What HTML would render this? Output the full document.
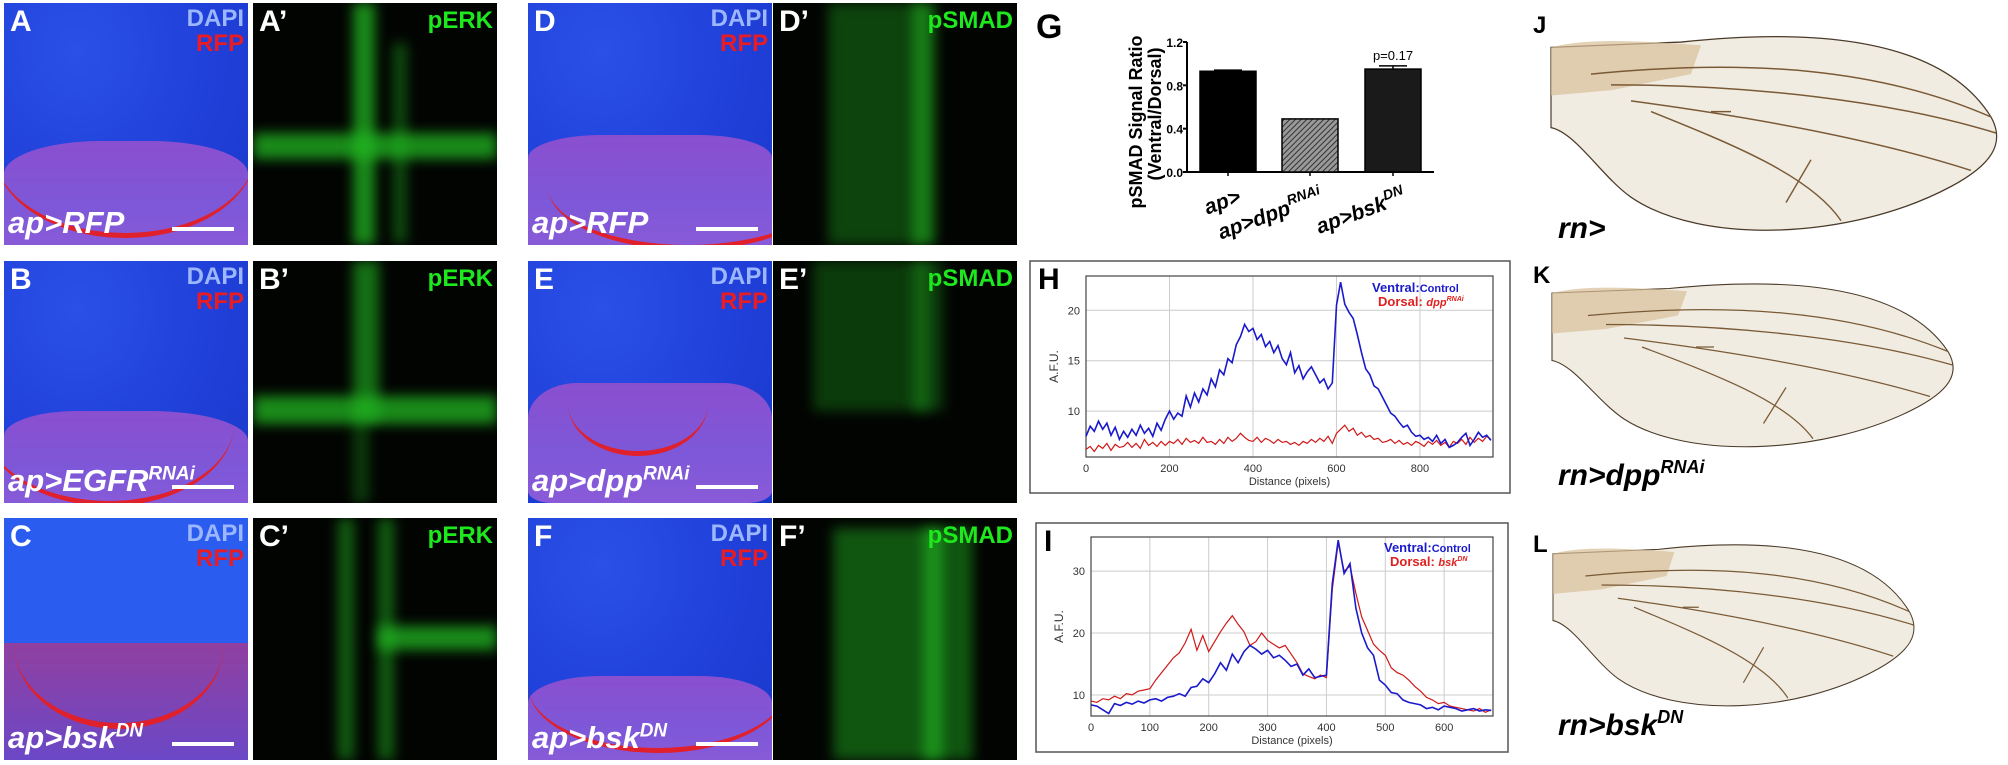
<!DOCTYPE html>
<html><head><meta charset="utf-8">
<style>
body{margin:0;width:2008px;height:765px;background:#fff;position:relative;overflow:hidden;font-family:"Liberation Sans",Arial,sans-serif}
.p{position:absolute;width:244px;height:242px;overflow:hidden}
.blue{background:radial-gradient(ellipse at 30% 20%,#2a50e8 0%,#1f3fd8 60%,#1a38c8 100%)}
.grn{background:#020402}
.pink{position:absolute;background:linear-gradient(180deg,#8a4fd0 0%,#7d58d8 60%,#8a5ad8 100%)}
.rc{position:absolute;border:0 solid #e0202a;border-bottom-width:5px;border-radius:50%}
.g{position:absolute;background:#22b822;filter:blur(6px);opacity:.75}
.lt{position:absolute;left:6px;top:2px;color:#fff;font-weight:bold;font-size:30px}
.dapi{position:absolute;right:4px;top:2px;color:#9cb6ff;font-weight:bold;font-size:24px}
.rfp{position:absolute;right:4px;top:27px;color:#e81c22;font-weight:bold;font-size:24px}
.ch{position:absolute;right:4px;top:4px;color:#1ee81e;font-weight:bold;font-size:24px}
.gt{position:absolute;left:4px;bottom:4px;color:#fff;font-weight:bold;font-style:italic;font-size:31px}
.gt sup{font-size:19px}
.sb{position:absolute;right:14px;bottom:14px;width:62px;height:4px;background:#fff}
</style></head><body>

<!-- Row 1 -->
<div class="p blue" style="left:4px;top:3px">
 <div class="pink" style="left:0;top:138px;width:244px;height:110px;border-radius:40% 40% 0 0/30% 30% 0 0"></div>
 <div class="rc" style="left:-10px;top:60px;width:262px;height:170px"></div>
 <div class="lt">A</div><div class="dapi">DAPI</div><div class="rfp">RFP</div>
 <div class="gt">ap&gt;RFP</div><div class="sb"></div>
</div>
<div class="p grn" style="left:253px;top:3px">
 <div class="g" style="left:0;top:130px;width:244px;height:26px"></div>
 <div class="g" style="left:100px;top:0;width:22px;height:242px"></div>
 <div class="g" style="left:140px;top:40px;width:14px;height:200px;opacity:.4"></div>
 <div class="lt">A’</div><div class="ch">pERK</div>
</div>
<div class="p blue" style="left:528px;top:3px">
 <div class="pink" style="left:0;top:132px;width:244px;height:115px;border-radius:30% 30% 0 0/20% 20% 0 0"></div>
 <div class="rc" style="left:20px;top:120px;width:280px;height:122px"></div>
 <div class="lt">D</div><div class="dapi">DAPI</div><div class="rfp">RFP</div>
 <div class="gt">ap&gt;RFP</div><div class="sb"></div>
</div>
<div class="p grn" style="left:773px;top:3px">
 <div class="g" style="left:55px;top:0;width:95px;height:242px;opacity:.35"></div>
 <div class="g" style="left:140px;top:0;width:22px;height:242px;opacity:.6"></div>
 <div class="lt">D’</div><div class="ch">pSMAD</div>
</div>

<!-- Row 2 -->
<div class="p blue" style="left:4px;top:261px">
 <div class="pink" style="left:0;top:150px;width:244px;height:100px;border-radius:30% 40% 0 0/25% 30% 0 0"></div>
 <div class="rc" style="left:-20px;top:80px;width:250px;height:160px"></div>
 <div class="lt">B</div><div class="dapi">DAPI</div><div class="rfp">RFP</div>
 <div class="gt">ap&gt;EGFR<sup>RNAi</sup></div><div class="sb"></div>
</div>
<div class="p grn" style="left:253px;top:261px">
 <div class="g" style="left:0;top:135px;width:244px;height:28px"></div>
 <div class="g" style="left:100px;top:0;width:26px;height:160px;opacity:.6"></div>
 <div class="g" style="left:100px;top:160px;width:16px;height:82px;opacity:.3"></div>
 <div class="lt">B’</div><div class="ch">pERK</div>
</div>
<div class="p blue" style="left:528px;top:261px">
 <div class="pink" style="left:0;top:122px;width:244px;height:120px;border-radius:20% 20% 10% 10%/30% 30% 10% 10%"></div>
 <div class="rc" style="left:40px;top:90px;width:140px;height:100px"></div>
 <div class="lt">E</div><div class="dapi">DAPI</div><div class="rfp">RFP</div>
 <div class="gt">ap&gt;dpp<sup>RNAi</sup></div><div class="sb"></div>
</div>
<div class="p grn" style="left:773px;top:261px">
 <div class="g" style="left:40px;top:0;width:130px;height:150px;opacity:.3"></div>
 <div class="g" style="left:140px;top:0;width:16px;height:150px;opacity:.35"></div>
 <div class="lt">E’</div><div class="ch">pSMAD</div>
</div>

<!-- Row 3 -->
<div class="p blue" style="left:4px;top:518px;background:#2a5cf0">
 <div class="pink" style="left:0;top:125px;width:244px;height:120px;background:linear-gradient(180deg,#9040a0,#6a48c8)"></div>
 <div class="rc" style="left:10px;top:40px;width:210px;height:165px;border-bottom-width:6px"></div>
 <div class="lt">C</div><div class="dapi">DAPI</div><div class="rfp">RFP</div>
 <div class="gt">ap&gt;bsk<sup>DN</sup></div><div class="sb"></div>
</div>
<div class="p grn" style="left:253px;top:518px">
 <div class="g" style="left:85px;top:0;width:16px;height:242px;opacity:.5"></div>
 <div class="g" style="left:125px;top:0;width:16px;height:242px;opacity:.5"></div>
 <div class="g" style="left:125px;top:108px;width:119px;height:24px"></div>
 <div class="lt">C’</div><div class="ch">pERK</div>
</div>
<div class="p blue" style="left:528px;top:518px">
 <div class="pink" style="left:0;top:158px;width:244px;height:90px;border-radius:30% 30% 0 0/30% 30% 0 0"></div>
 <div class="rc" style="left:0;top:100px;width:260px;height:130px"></div>
 <div class="lt">F</div><div class="dapi">DAPI</div><div class="rfp">RFP</div>
 <div class="gt">ap&gt;bsk<sup>DN</sup></div><div class="sb"></div>
</div>
<div class="p grn" style="left:773px;top:518px">
 <div class="g" style="left:60px;top:10px;width:140px;height:232px;opacity:.45"></div>
 <div class="g" style="left:150px;top:10px;width:20px;height:232px;opacity:.6"></div>
 <div class="lt">F’</div><div class="ch">pSMAD</div>
</div>

<svg id="charts" width="2008" height="765" style="position:absolute;left:0;top:0" xmlns="http://www.w3.org/2000/svg" font-family="Liberation Sans, Arial, sans-serif">
 <defs>
  <pattern id="hatch" width="4" height="4" patternUnits="userSpaceOnUse" patternTransform="rotate(45)">
   <rect width="4" height="4" fill="#999"/><line x1="0" y1="0" x2="0" y2="4" stroke="#333" stroke-width="2"/>
  </pattern>
 </defs>
 <g id="gG"></g>
 <g id="gH"></g>
 <g id="gI"></g>
 <g id="wings"></g>
</svg>

<script>
const gCategories = ["ap>", "ap>dpp", "ap>bsk"];
const gSup = ["", "RNAi", "DN"];
const gValues = [0.93, 0.49, 0.95];
const gErrors = [0.01, 0.0, 0.03];
const gTicks = [0.0, 0.4, 0.8, 1.2];

const hBlue = [7.5,8.5,8,9,8.2,8.8,7.6,8.4,7.2,8,
7.4,8.2,7.6,8.6,7.8,8.3,7.5,8.8,8.1,9.2,
10,9.2,9.8,9.5,11.5,10.4,11.8,10.9,12.2,11.6,
13.2,12.4,14.1,13.6,15.2,14.8,16.6,17.4,18.6,17.9,
18.2,17.1,17.6,16.4,16.9,15.8,16.5,15.2,14.6,15.8,
13.8,14.5,13.2,13.9,14.4,13.6,12.8,13.2,12.2,12.8,
20.5,22.8,20.6,19.8,19.2,17.6,15.8,14.2,13.6,12.5,
12.2,11.4,10.6,9.8,9.5,8.9,8.4,8.6,7.9,7.5,
7.6,7.2,7.4,7.0,7.6,6.8,7.2,6.4,6.6,6.9,
7.4,7.8,6.6,7.2,7.9,7.4,7.6,7.1];
const hRed = [6.2,6.5,6.0,6.6,6.3,6.8,6.1,6.7,6.4,6.5,
6.9,6.4,6.8,6.3,7.2,6.6,6.9,6.5,7.0,6.6,
7.0,6.8,7.2,6.7,7.3,6.9,7.1,6.8,7.4,6.9,
7.0,6.7,7.2,6.8,7.4,7.0,7.3,7.8,7.4,7.1,
7.0,7.4,6.9,7.3,7.1,6.8,7.2,6.9,7.0,6.7,
6.9,6.6,7.0,6.8,7.2,6.9,7.3,7.0,7.5,6.8,
7.8,8.2,8.6,8.0,8.3,7.6,7.9,7.4,7.6,7.2,
7.3,6.9,7.0,7.2,6.8,7.1,6.7,6.9,6.6,7.0,
6.8,6.5,7.0,6.7,7.1,6.6,6.9,6.4,7.0,6.8,
7.2,6.7,7.4,6.9,7.3,7.0,7.5,7.2];
const hXTicks = [0,200,400,600,800];
const hYTicks = [10,15,20];

const iBlue = [8.4,8.2,7.6,7.0,8.6,8.3,8.8,8.5,9.0,8.7,
9.2,9.4,9.0,9.6,9.8,10.2,9.8,11.2,11.4,12.6,
12.0,13.4,15.2,14.0,16.6,15.2,17.0,18.0,17.4,16.6,
17.2,16.0,16.4,15.6,14.6,15.0,13.2,14.2,12.8,13.0,
13.2,28,35,29.6,31.2,24,20,17.6,16.4,12.4,
11.6,10.4,10.2,9.2,8.8,8.6,8.4,7.8,8.0,7.6,
8.2,8.0,7.8,7.4,7.6,7.8,7.4,7.6,7.5];
const iRed = [9.0,8.8,9.4,9.2,9.8,9.4,10.2,10.0,10.6,10.8,
11.0,12.4,13.6,14.8,16.0,16.8,18.4,20.6,17.2,19.6,
17.0,18.6,20.2,21.6,22.8,21.4,20.2,18.0,18.6,20.0,
18.8,18.2,17.6,18.0,16.6,15.2,13.4,13.0,12.6,13.2,
12.8,27,34.6,30,30.8,26.4,22.6,20.4,18.2,17.2,
16.4,14.4,13.6,13.2,12.4,11.4,10.6,9.6,9.2,8.6,
8.8,8.2,8.0,7.8,7.6,7.4,7.8,7.2,7.6];
const iXTicks = [0,100,200,300,400,500,600];
const iYTicks = [10,20,30];
const lineStep = 10;

const NS = "http://www.w3.org/2000/svg";
function mk(parent, tag, attrs, text){
  const e = document.createElementNS(NS, tag);
  for (const k in attrs) e.setAttribute(k, attrs[k]);
  if (text !== undefined) e.textContent = text;
  parent.appendChild(e);
  return e;
}

/* ---------- G ---------- */
(function(){
  const g = document.getElementById('gG');
  const x0 = 1187, x1 = 1434, yb = 172, yt = 42;
  const yS = v => yb - v * (yb - yt) / 1.2;
  const bw = 56, centers = [1228, 1310, 1393];
  let t = mk(g,'text',{x:1036,y:38,'font-size':34,'font-weight':'bold'},'G');
  
  
  let a = mk(g,'line',{x1:x0,y1:yt,x2:x0,y2:yb,stroke:'#000','stroke-width':2});
  
  
  a = mk(g,'line',{x1:x0,y1:yb,x2:x1,y2:yb,stroke:'#000','stroke-width':2});
  
  
  gTicks.forEach(v=>{
    mk(g,'line',{x1:x0-4,y1:yS(v),x2:x0,y2:yS(v),stroke:'#000','stroke-width':2});
    const tl = mk(g,'text',{x:x0-4,y:yS(v)+5,'font-size':12,'font-weight':'bold','text-anchor':'end'},v.toFixed(1));
    
    
  });
  const ytl = mk(g,'text',{transform:'translate(1142,122) rotate(-90)','font-size':18,'font-weight':'bold','text-anchor':'middle'},'pSMAD Signal Ratio');
  
  
  const yt2 = mk(g,'text',{transform:'translate(1161,114) rotate(-90)','font-size':18,'font-weight':'bold','text-anchor':'middle'},'(Ventral/Dorsal)');
  
  
  const fills = ['#000','url(#hatch)','#1a1a1a'];
  gValues.forEach((v,i)=>{
    const c = centers[i];
    const r = mk(g,'rect',{x:c-bw/2,y:yS(v),width:bw,height:yb-yS(v),fill:fills[i],stroke:'#000','stroke-width':1.5});
    
    
    if (gErrors[i]>0){
      mk(g,'line',{x1:c,y1:yS(v),x2:c,y2:yS(v+gErrors[i]),stroke:'#000','stroke-width':1.5});
      mk(g,'line',{x1:c-14,y1:yS(v+gErrors[i]),x2:c+14,y2:yS(v+gErrors[i]),stroke:'#000','stroke-width':1.5});
    }
    mk(g,'line',{x1:c,y1:yb,x2:c,y2:yb+4,stroke:'#000','stroke-width':1.5});
    const lab = mk(g,'text',{transform:'translate('+(c+14)+','+(yb+30)+') rotate(-20)','font-size':21,'font-weight':'bold','font-style':'italic','text-anchor':'end'});
    
    
    mk(lab,'tspan',{},gCategories[i]);
    if (gSup[i]) mk(lab,'tspan',{dy:-9,'font-size':14},gSup[i]);
  });
  const p = mk(g,'text',{x:centers[2],y:yS(gValues[2]+gErrors[2])-6,'font-size':13,'text-anchor':'middle'},'p=0.17');
  
  
})();

/* ---------- line charts ---------- */
function lineChart(id, box, plot, xMax, yMin, yMax, xTicks, yTicks, series, letter, legendX, legendY, dorsalTxt, dorsalSup){
  const g = document.getElementById(id);
  const [L,T,R,B] = plot;
  const xS = v => L + v*(R-L)/xMax;
  const yS = v => B - (v-yMin)*(B-T)/(yMax-yMin);
  const fr = mk(g,'rect',{x:box[0],y:box[1],width:box[2]-box[0],height:box[3]-box[1],fill:'#fff',stroke:'#555','stroke-width':1.5});
  
  
  xTicks.forEach(v=>{
    if (v>0) mk(g,'line',{x1:xS(v),y1:T,x2:xS(v),y2:B,stroke:'#ccc','stroke-width':1});
    const tl = mk(g,'text',{x:xS(v),y:B+15,'font-size':11,'text-anchor':'middle',fill:'#333'},String(v));
    
    
  });
  yTicks.forEach(v=>{
    mk(g,'line',{x1:L,y1:yS(v),x2:R,y2:yS(v),stroke:'#ccc','stroke-width':1});
    const tl = mk(g,'text',{x:L-6,y:yS(v)+4,'font-size':11,'text-anchor':'end',fill:'#333'},String(v));
    
    
  });
  mk(g,'rect',{x:L,y:T,width:R-L,height:B-T,fill:'none',stroke:'#444','stroke-width':1.2});
  const cols = ['#d01818','#1a1acc'];
  series.forEach((s,si)=>{
    let d='';
    s.forEach((v,i)=>{ d += (i?'L':'M') + xS(i*lineStep).toFixed(1)+','+yS(Math.max(yMin,Math.min(yMax,v))).toFixed(1); });
    const pth = mk(g,'path',{d:d,fill:'none',stroke:cols[si],'stroke-width':si?1.6:1.2});
    
    
  });
  const xt = mk(g,'text',{x:(L+R)/2,y:B+28,'font-size':11,'text-anchor':'middle',fill:'#333'},'Distance (pixels)');
  
  
  const yt = mk(g,'text',{transform:'translate('+(L-28)+','+((T+B)/2)+') rotate(-90)','font-size':12,'text-anchor':'middle',fill:'#333'},'A.F.U.');
  
  
  const lt = mk(g,'text',{x:box[0]+8,y:box[1]+28,'font-size':30,'font-weight':'bold'},letter);
  
  
  const l1 = mk(g,'text',{x:legendX,y:legendY,'font-size':13,'font-weight':'bold',fill:'#1a1acc'});
  
  
  mk(l1,'tspan',{},'Ventral:');
  mk(l1,'tspan',{'font-size':11},'Control');
  const l2 = mk(g,'text',{x:legendX+6,y:legendY+14,'font-size':13,'font-weight':'bold',fill:'#e02020'});
  
  
  mk(l2,'tspan',{},'Dorsal: ');
  mk(l2,'tspan',{'font-size':11,'font-style':'italic'},dorsalTxt);
  mk(l2,'tspan',{'font-size':7,dy:-5,'font-style':'italic'},dorsalSup);
}
lineChart('gH',[1030,261,1510,493],[1086,276,1493,457],975,5.45,23.4,hXTicks,hYTicks,[hRed,hBlue],'H',1372,292,'dpp','RNAi');
lineChart('gI',[1036,523,1508,752],[1091,537,1493,716],683,6.6,35.5,iXTicks,iYTicks,[iRed,iBlue],'I',1384,552,'bsk','DN');

/* ---------- wings ---------- */
(function(){
  const g = document.getElementById('wings');
  const wingsSpec = [
    {tx:1551,ty:26,sx:1.0,sy:1.07,letter:'J',ly:33,label:'rn>',sup:'',lab:238},
    {tx:1552,ty:275,sx:0.9,sy:0.9,letter:'K',ly:283,label:'rn>dpp',sup:'RNAi',lab:485},
    {tx:1553,ty:536,sx:0.81,sy:0.89,letter:'L',ly:552,label:'rn>bsk',sup:'DN',lab:735}
  ];
  wingsSpec.forEach((w,i)=>{
    const wg = mk(g,'g',{transform:'translate('+w.tx+','+w.ty+') scale('+w.sx+','+w.sy+')'});
    
    
    mk(wg,'path',{d:'M0,20 L130,15 C260,2 390,10 440,85 C455,110 440,130 400,150 C300,200 150,205 80,160 C50,140 25,100 0,95 Z',fill:'#f1ece1',stroke:'#4a3a28','stroke-width':1.2});
    mk(wg,'path',{d:'M0,20 C40,10 100,15 150,18 L140,45 L60,60 L0,65 Z',fill:'#d8bf98',opacity:.7});
    const veins = ['M40,45 C200,30 330,40 440,85','M60,55 C200,55 340,70 445,100','M80,70 C200,85 320,105 420,135','M100,80 C180,110 260,140 290,182','M260,125 L235,165','M180,80 L160,80'];
    veins.forEach(d=>mk(wg,'path',{d:d,fill:'none',stroke:'#7a5a36','stroke-width':1.4}));
    const lt = mk(g,'text',{x:1533,y:w.ly,'font-size':24,'font-weight':'bold'},w.letter);
    
    
    const gl = mk(g,'text',{x:1558,y:w.lab,'font-size':30,'font-weight':'bold','font-style':'italic'});
    
    
    mk(gl,'tspan',{},w.label);
    if (w.sup) mk(gl,'tspan',{dy:-12,'font-size':18},w.sup);
  });
})();
</script>
</body></html>
